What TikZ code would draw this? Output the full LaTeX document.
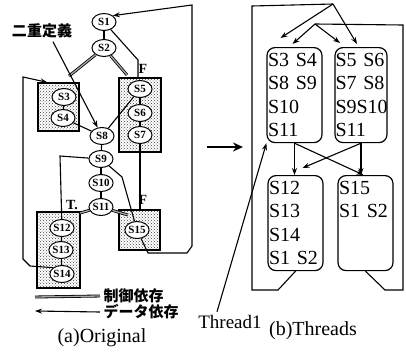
\documentclass[tikz,border=0pt]{standalone}
\usepackage{fontspec}
\setmainfont{Liberation Serif}
\newfontfamily\jpfont{Noto Sans CJK JP}
\usetikzlibrary{arrows.meta,shapes.geometric,calc,patterns}

\begin{document}
\begin{tikzpicture}[x=1pt, y=-1pt, >={Stealth[length=7pt, width=5pt]},
        stmt/.style={draw, ellipse, fill=white, line width=1pt, minimum width=24pt, minimum height=17pt, inner sep=0pt, font=\fontsize{11}{11}\selectfont\bfseries},
        blk/.style={draw, line width=1.3pt, pattern=crosshatch dots, pattern color=black!75, inner sep=0pt},
        thr/.style={draw, rounded corners=8pt, line width=1.2pt, align=left, anchor=north, inner xsep=1pt, inner ysep=5pt, minimum height=95pt, font=\fontsize{20}{23.5}\selectfont},
        dep/.style={line width=1.1pt},
        ctrl/.style={double=black!35, double distance=1.3pt, line width=0.8pt},
        lbl/.style={font=\fontsize{14}{14}\selectfont\bfseries},
        jp/.style={font=\jpfont\fontsize{15}{15}\selectfont\bfseries}
    ]
    \useasboundingbox (0,0) rectangle (406,351);
    % (a) Original
    \node[blk, minimum width=41pt, minimum height=48pt] (box3) at (58.5,107) {};
    \node[blk, minimum width=42pt, minimum height=74pt] (box5) at (140,115) {};
    \node[blk, minimum width=43pt, minimum height=76pt] (boxT) at (58.5,250) {};
    \node[blk, minimum width=41pt, minimum height=40pt] (boxF) at (139.5,230) {};
    \node[stmt] (s1) at (104,22) {S1};
    \node[stmt] (s2) at (104,48) {S2};
    \node[stmt] (s3) at (64,97) {S3};
    \node[stmt] (s4) at (63,118) {S4};
    \node[stmt] (s5) at (140,89) {S5};
    \node[stmt] (s6) at (140,113) {S6};
    \node[stmt] (s7) at (140,135) {S7};
    \node[stmt] (s8) at (102,136) {S8};
    \node[stmt] (s9) at (101,159) {S9};
    \node[stmt] (s10) at (101,183) {S10};
    \node[stmt] (s11) at (101,207) {S11};
    \node[stmt] (s12) at (62,228) {S12};
    \node[stmt] (s13) at (61,250) {S13};
    \node[stmt] (s14) at (62,274) {S14};
    \node[stmt] (s15) at (137,230) {S15};
    \node[lbl] (f1) at (143,69) {F};
    \node[lbl] (f2) at (143,200) {F};
    \node[lbl] (t2) at (72,205) {T.};
    \node[jp] (dbl) at (42,31) {二重定義};
    % control dependences
    \coordinate (c1) at (69,76);
    \coordinate (c2) at (127,75);
    \coordinate (c3) at (80,213);
    \coordinate (c4) at (128,215);
    \draw[ctrl] (s2) -- (c1);
    \draw[ctrl] (s2) -- (c2);
    \draw[ctrl] (s11) -- (c3);
    \draw[ctrl] (s11) -- (c4);
    % data dependences
    \draw[dep] (s1) -- (s2);
    \draw[dep] (s1) -- (138,60) -- ($(box5.north)+(-2,0)$);
    \draw[dep] (s3) -- (s4);
    \draw[dep] (s5) -- (s6);
    \draw[dep] (s6) -- (s7);
    \draw[dep] (s8) -- (s9);
    \draw[dep] (s9) -- (s10);
    \draw[dep] (s10) -- (s11);
    \draw[dep] (s12) -- (s13);
    \draw[dep] (s13) -- (s14);
    \draw[dep] (s4) -- (s8);
    \draw[dep] (s5) -- (s8);
    \draw[dep] (s9) -- (60,156) -- (s12);
    \draw[dep] (s9) -- (122,177) -- (s15);
    \draw[dep] (s7) -- (s7 |- boxF.north);
    \draw[dep,->] ($(dbl.south)+(11,0)$) -- (s8);
    \draw[dep,->] (s15) -- (148,253) -- (187,253) -- (192,246) -- (192,5) -- (s1.north east);
    \draw[dep,->] (s14.north west) -- (30,266) -- (23,259) -- (23,77) -- ($(box3.north west)+(10,0)$);
    % legend
    \node[jp, anchor=west] (lg1) at (100,296) {制御依存};
    \node[jp, anchor=west] (lg2) at (100,312) {データ依存};
    \coordinate (e1) at (35,297);
    \coordinate (e2) at (35,311);
    \draw[ctrl] (lg1.west) -- (e1);
    \draw[dep,->] (lg2.west) -- (e2);
    \node[font=\fontsize{20}{20}\selectfont] (capa) at (102,338) {(a)Original};
    % arrow between
    \coordinate (arA) at (207,147);
    \coordinate (arB) at (243,147);
    \draw[line width=2.5pt, -{Stealth[length=10pt, width=9pt]}] (arA) -- (arB);
    % (b) Threads
    \node[thr, text width=53pt] (thA) at (294.5,47) {S3 S4\\S8 S9\\S10\\S11};
    \node[thr, text width=51pt, inner xsep=0.5pt] (thB) at (361,47) {S5 S6\\S7 S8\\S9S10\\S11};
    \node[thr, text width=53pt] (thC) at (295.5,175) {S12\\S13\\S14\\S1 S2};
    \node[thr, text width=53pt] (thD) at (365.5,175) {S15\\S1 S2\\~\\~};
    \coordinate (ap1) at (333,4);
    \coordinate (ap2) at (315,24);
    \draw[dep] (thC.south) -- (278,290) -- (252,290) -- (252,6) -- (ap1);
    \draw[dep] (thD.south) -- (385,290) -- (403,290) -- (403,25) -- (ap2);
    \draw[dep,->] (ap1) -- ($(thA.north)+(-14,-9)$);
    \draw[dep,->] (ap1) -- ($(thB.north)+(-4,-3)$);
    \draw[dep,->] (ap2) -- ($(thA.north)+(-2,-3)$);
    \draw[dep,->] (ap2) -- ($(thB.north)+(-21,-4)$);
    \draw[dep,->] (thA.south) -- (thA.south |- thC.north);
    \draw[dep,->] (thA.south) -- ($(thD.north)+(-2,0)$);
    \draw[dep,->] (thB.south) -- (thB.south |- thD.north);
    \draw[dep,->] (thB.south) -- ($(thC.north)+(7,-7)$);
    \node[font=\fontsize{19}{19}\selectfont] (thr1) at (230,322) {Thread1};
    \draw[dep,->] ($(thr1.north)+(-13,0)$) -- (thA.south west);
    \node[font=\fontsize{20}{20}\selectfont] (capb) at (313,331) {(b)Threads};
\end{tikzpicture}
\end{document}
